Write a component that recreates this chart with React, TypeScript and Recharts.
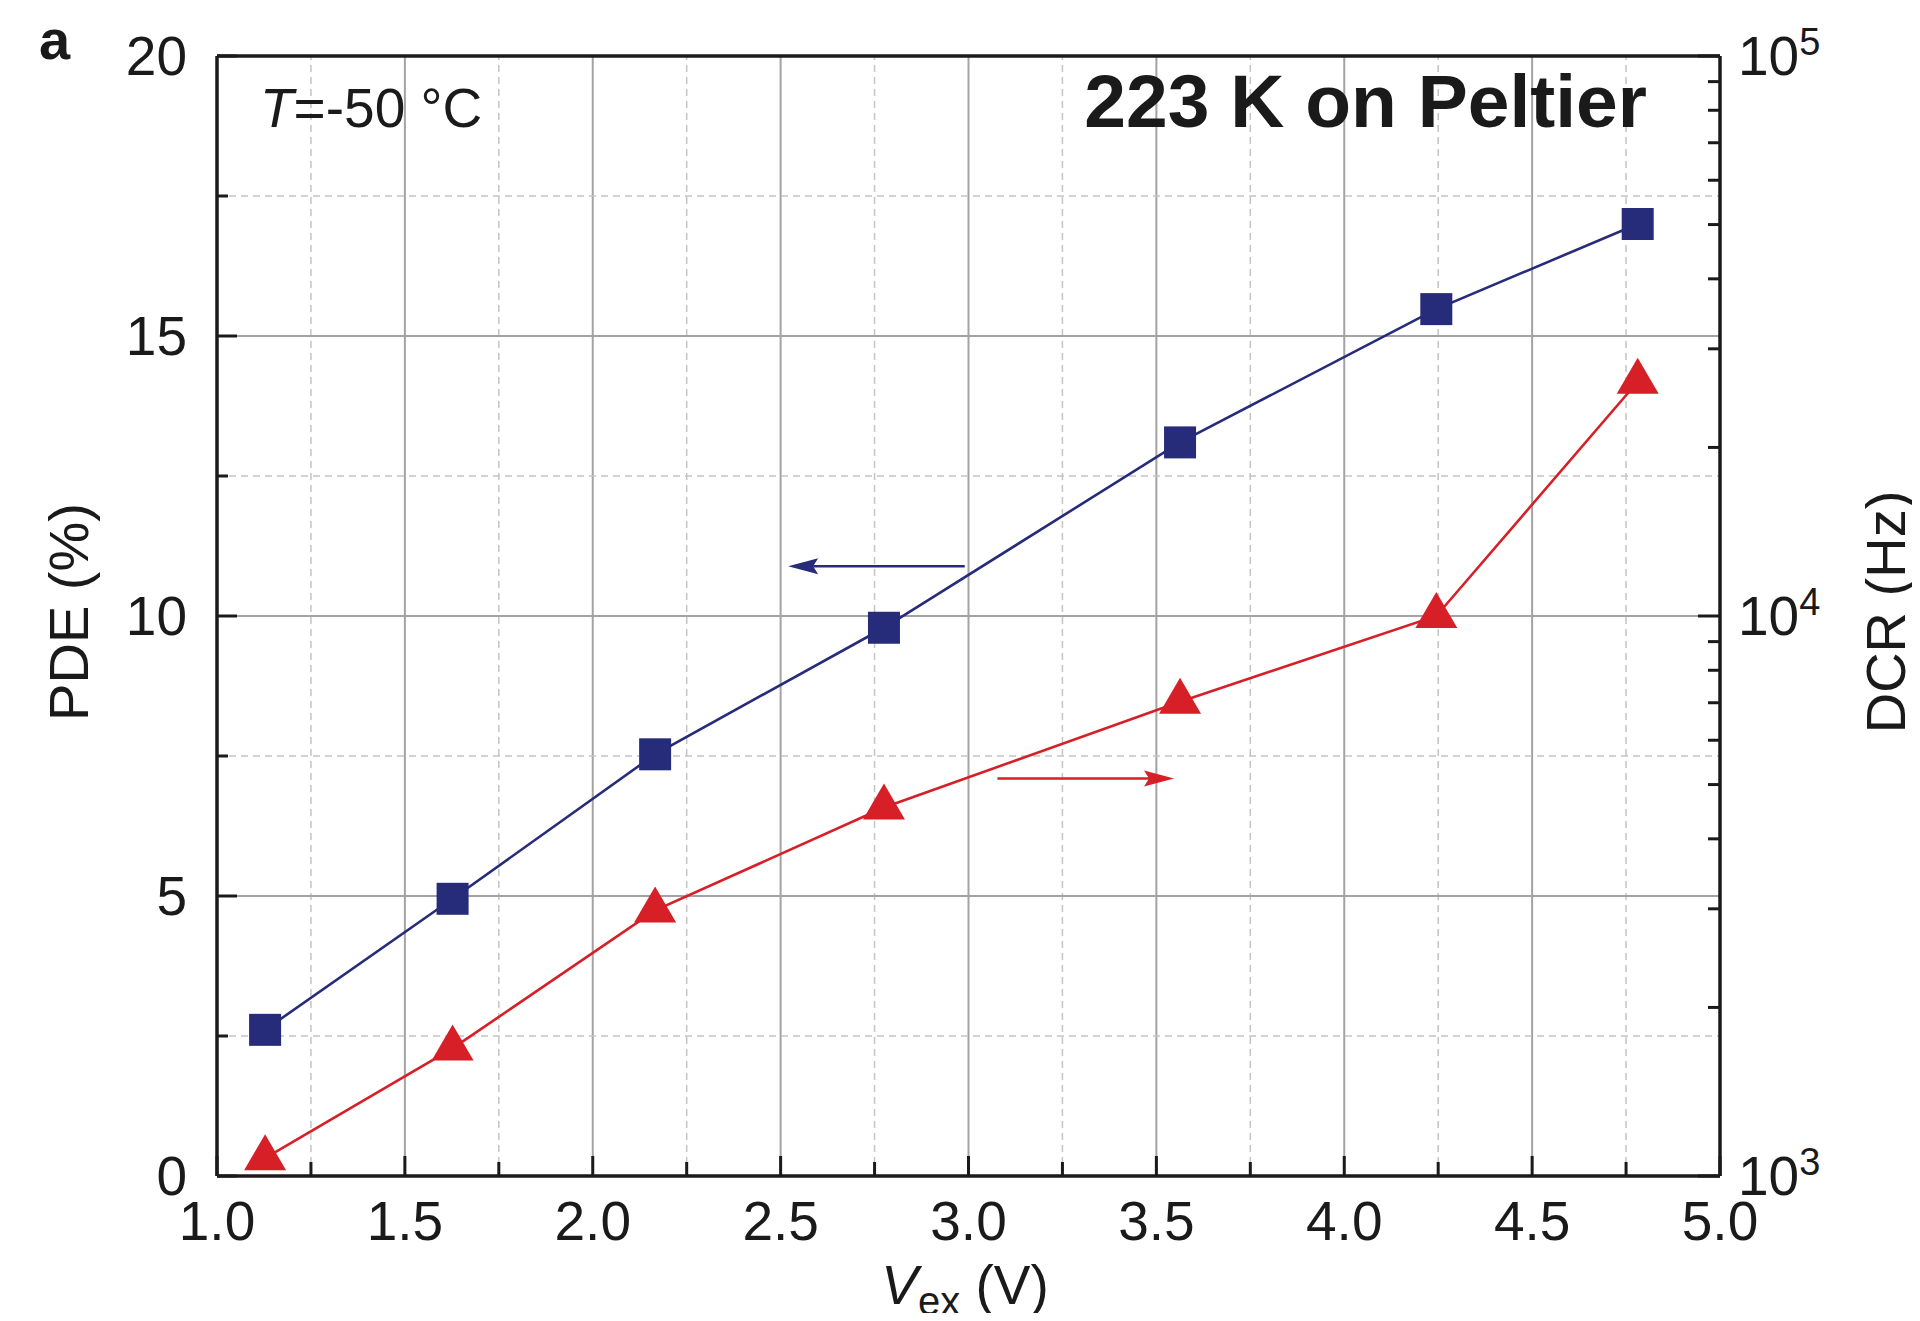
import React from 'react'
import { ComposedChart, Line, XAxis, YAxis, ReferenceLine } from 'recharts'

const VEX = [1.128, 1.627, 2.166, 2.775, 3.563, 4.245, 4.781]
const PDE = [2.61, 4.95, 7.53, 9.79, 13.1, 15.48, 17.0]
const DCR = [1076, 1690, 2980, 4550, 7030, 10000, 26200]

const X_TICKS = [1, 1.25, 1.5, 1.75, 2, 2.25, 2.5, 2.75, 3, 3.25, 3.5, 3.75, 4, 4.25, 4.5, 4.75, 5]
const PDE_TICKS = [0, 2.5, 5, 7.5, 10, 12.5, 15, 17.5, 20]
const DCR_TICKS = [
  1000, 2000, 3000, 4000, 5000, 6000, 7000, 8000, 9000,
  10000, 20000, 30000, 40000, 50000, 60000, 70000, 80000, 90000,
  100000,
]

const BLUE = '#272c7a'
const RED = '#d71f27'
const INK = '#1a1a1a'
const GRID_SOLID = '#a3a3a3'
const GRID_DASH = '#c4c4c4'
const FONT = '"Liberation Sans", Arial, Helvetica, sans-serif'

const W = 1904
const H = 1305

const rows = VEX.map((v, i) => ({ vex: v, pde: PDE[i], dcr: DCR[i] }))

const isMajor = (v: number, step: number) => Math.abs(v / step - Math.round(v / step)) < 1e-6

function XTick({ x, y, payload }: any) {
  const v = payload.value as number
  const major = isMajor(v, 0.5)
  return (
    <g>
      <line x1={x} x2={x} y1={y} y2={y - (major ? 20 : 14)} stroke={INK} strokeWidth={3} />
      {major && (
        <text x={x} y={y + 64} textAnchor="middle" fontSize={55} fontFamily={FONT} fill={INK}>
          {v.toFixed(1)}
        </text>
      )}
    </g>
  )
}

function PdeTick({ x, y, payload }: any) {
  const v = payload.value as number
  const major = isMajor(v, 5)
  return (
    <g>
      <line x1={x} x2={x + (major ? 20 : 11)} y1={y} y2={y} stroke={INK} strokeWidth={3} />
      {major && (
        <text x={x - 30} y={y + 19} textAnchor="end" fontSize={55} fontFamily={FONT} fill={INK}>
          {v}
        </text>
      )}
    </g>
  )
}

function DcrTick({ x, y, payload }: any) {
  const v = payload.value as number
  const exp = Math.log10(v)
  const major = Math.abs(exp - Math.round(exp)) < 1e-6
  return (
    <g>
      <line x1={x} x2={x - (major ? 22 : 12)} y1={y} y2={y} stroke={INK} strokeWidth={3} />
      {major && (
        <text x={x + 18} y={y + 19} fontSize={55} fontFamily={FONT} fill={INK}>
          10
          <tspan dy={-20} fontSize={38}>
            {Math.round(exp)}
          </tspan>
        </text>
      )}
    </g>
  )
}

const arrowShape = (color: string) => (p: any) => {
  const { x1, y1, x2, y2 } = p
  const dir = Math.sign(x2 - x1) || 1
  const len = 30
  const half = 8
  const notch = 5
  const bx = x2 - dir * len
  return (
    <g>
      <line x1={x1} y1={y1} x2={bx + dir * notch} y2={y2} stroke={color} strokeWidth={2.5} />
      <polygon
        points={`${x2},${y2} ${bx},${y2 - half} ${bx + dir * notch},${y2} ${bx},${y2 + half}`}
        fill={color}
      />
    </g>
  )
}

const squareDot = (p: any) => (
  <rect key={`sq-${p.index}`} x={p.cx - 16} y={p.cy - 16} width={32} height={32} fill={BLUE} />
)

// centroid of the triangle sits on the data point
const triangleDot = (p: any) => {
  const h = 36
  const w = 42
  const top = p.cy - (2 * h) / 3
  const base = p.cy + h / 3
  return (
    <polygon
      key={`tri-${p.index}`}
      points={`${p.cx},${top} ${p.cx - w / 2},${base} ${p.cx + w / 2},${base}`}
      fill={RED}
    />
  )
}

export default function App() {
  const innerX = X_TICKS.filter((v) => v > 1 && v < 5)
  const innerY = PDE_TICKS.filter((v) => v > 0 && v < 20)

  return (
    <div style={{ position: 'relative', width: W, height: H, fontFamily: FONT }}>
      <ComposedChart width={W} height={H} data={rows} margin={{ top: 48, right: 0, bottom: 0, left: 0 }}>
        <XAxis
          dataKey="vex"
          type="number"
          domain={[1, 5]}
          ticks={X_TICKS}
          interval={0}
          height={137}
          tickSize={0}
          tickMargin={0}
          tickLine={false}
          tick={<XTick />}
          axisLine={{ stroke: INK, strokeWidth: 3.5 }}
        />
        <YAxis
          yAxisId="pde"
          type="number"
          domain={[0, 20]}
          ticks={PDE_TICKS}
          interval={0}
          width={209}
          tickSize={0}
          tickMargin={0}
          tickLine={false}
          tick={<PdeTick />}
          axisLine={{ stroke: INK, strokeWidth: 3.5 }}
        />
        <YAxis
          yAxisId="dcr"
          orientation="right"
          type="number"
          scale="log"
          domain={[1000, 100000]}
          allowDataOverflow
          ticks={DCR_TICKS}
          interval={0}
          width={192}
          tickSize={0}
          tickMargin={0}
          tickLine={false}
          tick={<DcrTick />}
          axisLine={{ stroke: INK, strokeWidth: 3.5 }}
        />

        {innerX.map((v) => (
          <ReferenceLine
            key={`gx-${v}`}
            x={v}
            yAxisId="pde"
            zIndex={-100}
            stroke={isMajor(v, 0.5) ? GRID_SOLID : GRID_DASH}
            strokeWidth={isMajor(v, 0.5) ? 2 : 1.5}
            strokeDasharray={isMajor(v, 0.5) ? undefined : '7 5'}
          />
        ))}
        {innerY.map((v) => (
          <ReferenceLine
            key={`gy-${v}`}
            y={v}
            yAxisId="pde"
            zIndex={-100}
            stroke={isMajor(v, 5) ? GRID_SOLID : GRID_DASH}
            strokeWidth={isMajor(v, 5) ? 2 : 1.5}
            strokeDasharray={isMajor(v, 5) ? undefined : '7 5'}
          />
        ))}
        {/* top frame edge */}
        <ReferenceLine y={20} yAxisId="pde" stroke={INK} strokeWidth={3.5} />

        {/* arrows pointing to each series' axis */}
        <ReferenceLine
          yAxisId="pde"
          segment={[
            { x: 2.99, y: 10.89 },
            { x: 2.52, y: 10.89 },
          ]}
          shape={arrowShape(BLUE)}
        />
        <ReferenceLine
          yAxisId="pde"
          segment={[
            { x: 3.077, y: 7.1 },
            { x: 3.547, y: 7.1 },
          ]}
          shape={arrowShape(RED)}
        />

        <Line
          yAxisId="pde"
          dataKey="pde"
          stroke={BLUE}
          strokeWidth={2.6}
          dot={squareDot}
          activeDot={false}
          isAnimationActive={false}
        />
        <Line
          yAxisId="dcr"
          dataKey="dcr"
          stroke={RED}
          strokeWidth={2.6}
          dot={triangleDot}
          activeDot={false}
          isAnimationActive={false}
        />
      </ComposedChart>

      <svg
        width={W}
        height={H + 8}
        style={{ position: 'absolute', left: 0, top: 0, overflow: 'visible', pointerEvents: 'none' }}
        fontFamily={FONT}
        fill={INK}
      >
        <text x={31} y={51} fontSize={56} fontWeight="bold">
          a
        </text>
        <text x={252} y={119} fontSize={55}>
          <tspan fontStyle="italic">T</tspan>=-50 °C
        </text>
        <text x={1639} y={119} fontSize={75} fontWeight="bold" textAnchor="end">
          223 K on Peltier
        </text>
        <text transform="translate(80,604) rotate(-90)" fontSize={56} textAnchor="middle">
          PDE (%)
        </text>
        <text transform="translate(1897,604) rotate(-90)" fontSize={56} textAnchor="middle">
          DCR (Hz)
        </text>
        <text x={957} y={1296} fontSize={55} textAnchor="middle">
          <tspan fontStyle="italic">V</tspan>
          <tspan fontSize={40} dy={11}>
            ex
          </tspan>
          <tspan dy={-11}> (V)</tspan>
        </text>
      </svg>
    </div>
  )
}
